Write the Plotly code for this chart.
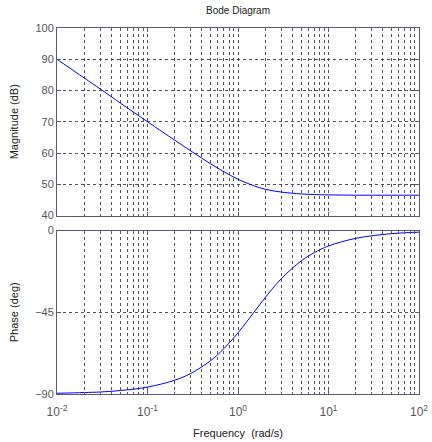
import plotly.graph_objects as go

freq = [0.01, 0.02, 0.03, 0.05, 0.1, 0.2, 0.3, 0.5, 0.7, 1.0, 1.5, 2.0, 3.0, 5.0, 7.0, 10.0, 20.0, 50.0, 100.0]
mag_db = [90.0, 84.0, 80.5, 76.0, 70.0, 64.1, 60.7, 56.5, 54.0, 51.6, 49.5, 48.4, 47.5, 46.9, 46.7, 46.6, 46.5, 46.5, 46.5]
phase_deg = [-89.6, -89.2, -88.9, -88.1, -86.2, -82.4, -78.7, -71.6, -65.0, -56.3, -45.0, -36.9, -26.6, -16.7, -12.1, -8.5, -4.3, -1.7, -0.9]

x_tickvals = [0.01, 0.1, 1, 10, 100]
x_ticktext = ["10<sup>-2</sup>", "10<sup>-1</sup>", "10<sup>0</sup>", "10<sup>1</sup>", "10<sup>2</sup>"]
x_minor = [m * d for d in [0.01, 0.1, 1, 10] for m in range(2, 10)]
mag_ticks = [40, 50, 60, 70, 80, 90, 100]
phase_ticks = [-90, -45, 0]

FONT = "Liberation Sans Narrow, Liberation Sans, Arial, sans-serif"
AX = "#5a5a70"
GRID = "#505060"
DASH = "3px,3px"
TICKC = "#555555"

fig = go.Figure()
fig.add_trace(go.Scatter(x=freq, y=mag_db, mode="lines", line=dict(color="#0000ff", width=1, shape="spline"),
                         xaxis="x", yaxis="y", showlegend=False))
fig.add_trace(go.Scatter(x=freq, y=phase_deg, mode="lines", line=dict(color="#0000ff", width=1, shape="spline"),
                         xaxis="x2", yaxis="y2", showlegend=False))

xcommon = dict(type="log", range=[-2, 2], showline=True, mirror="ticks", linecolor=AX, linewidth=1,
               ticks="inside", ticklen=4, tickcolor=AX, automargin=False,
               showgrid=True, gridcolor=GRID, griddash=DASH, gridwidth=1,
               minor=dict(tickmode="array", tickvals=x_minor, showgrid=True, gridcolor=GRID, griddash=DASH,
                          gridwidth=1, ticks="inside", ticklen=2, tickcolor=AX),
               tickmode="array", tickvals=x_tickvals, ticktext=x_ticktext, zeroline=False,
               tickfont=dict(family=FONT, size=12, color=TICKC))
ycommon = dict(showline=True, mirror="ticks", linecolor=AX, linewidth=1, ticks="inside", ticklen=4, tickcolor=AX,
               showgrid=True, gridcolor=GRID, griddash=DASH, gridwidth=1, zeroline=False, automargin=False,
               tickfont=dict(family=FONT, size=11, color=TICKC))

fig.update_layout(
    width=432, height=442,
    margin=dict(l=57, r=13, t=28, b=48),
    paper_bgcolor="white", plot_bgcolor="white",
    title=dict(text="Bode Diagram", x=0.551, xanchor="center", y=0.985, yanchor="top",
               font=dict(family=FONT, size=10, color="#202020")),
    xaxis=dict(xcommon, domain=[0, 1], anchor="y", showticklabels=False),
    yaxis=dict(ycommon, domain=[0.4877, 1], range=[40, 100], tickmode="array", tickvals=mag_ticks,
               title=dict(text="Magnitude (dB)", font=dict(family=FONT, size=11, color="#202020"), standoff=14)),
    xaxis2=dict(xcommon, domain=[0, 1], anchor="y2", ticklabelstandoff=7,
                title=dict(text="Frequency  (rad/s)", font=dict(family=FONT, size=11, color="#202020"), standoff=10)),
    yaxis2=dict(ycommon, domain=[0, 0.4466], range=[-90, 0], tickmode="array", tickvals=phase_ticks,
                title=dict(text="Phase (deg)", font=dict(family=FONT, size=11, color="#202020"), standoff=14)),
)

fig.write_html("out.html")
